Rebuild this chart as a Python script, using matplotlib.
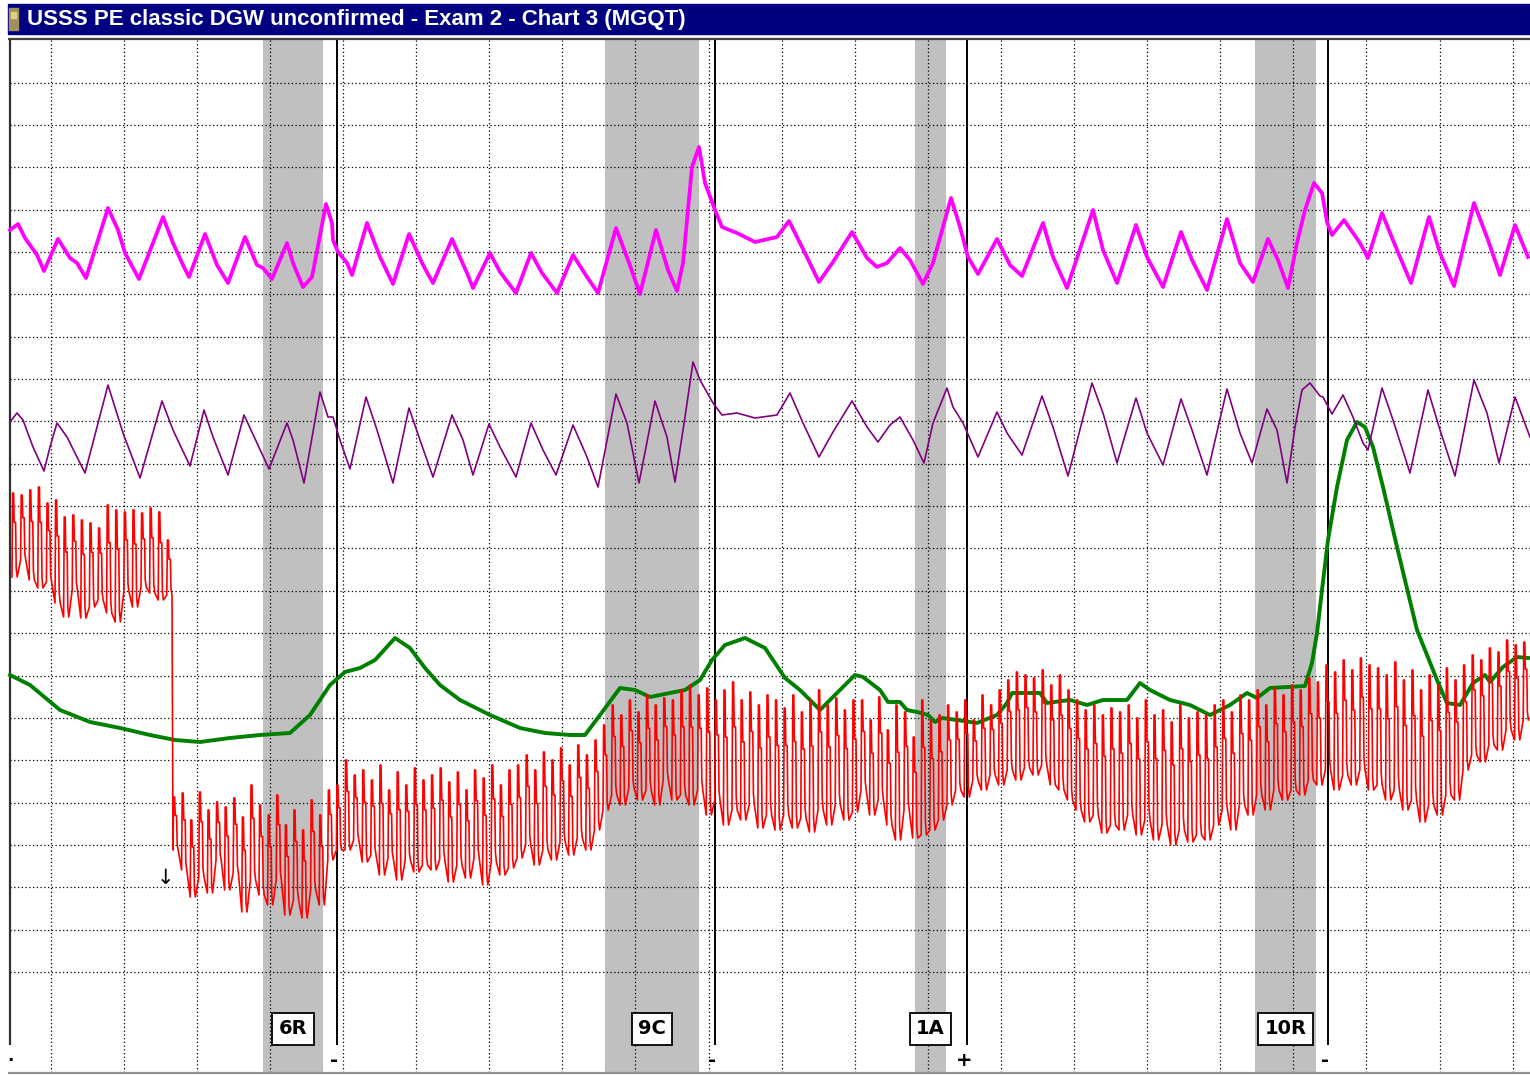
import matplotlib
matplotlib.use('Agg')
import numpy as np
import matplotlib.pyplot as plt
from matplotlib.patches import Rectangle

# time in samples, pen position in chart rows (larger = lower on the chart)
upper_x = [10, 18, 25, 37, 44, 58, 70, 77, 86, 108, 118, 125, 139, 163, 173, 183, 189, 205, 217, 228,
           245, 257, 263, 272, 287, 293, 303, 312, 326, 332, 333, 338, 347, 352, 367, 380, 393, 409, 423, 433,
           452, 467, 473, 490, 500, 516, 531, 542, 557, 573, 587, 598, 616, 628, 640, 656, 668, 677, 683, 692,
           699, 705, 715, 722, 737, 755, 777, 789, 802, 819, 833, 852, 867, 877, 887, 900, 910, 923, 933, 951,
           960, 968, 978, 997, 1010, 1022, 1043, 1053, 1067, 1093, 1103, 1117, 1136, 1147, 1163, 1181, 1192, 1207, 1227, 1240,
           1253, 1268, 1278, 1288, 1297, 1305, 1314, 1322, 1327, 1332, 1344, 1360, 1368, 1382, 1397, 1411, 1429, 1440, 1454, 1474,
           1488, 1500, 1515, 1528]
upper_y = [230, 224, 238, 255, 271, 239, 258, 263, 278, 208, 230, 253, 279, 217, 243, 265, 277, 234, 265, 283,
           237, 265, 268, 279, 243, 263, 287, 277, 204, 223, 240, 252, 263, 275, 223, 257, 284, 234, 265, 283,
           239, 273, 288, 253, 272, 293, 253, 273, 293, 255, 277, 293, 228, 260, 294, 230, 270, 291, 263, 167,
           147, 183, 210, 227, 233, 242, 237, 221, 247, 282, 262, 232, 258, 267, 263, 248, 260, 284, 263, 198,
           227, 257, 274, 239, 265, 276, 223, 257, 288, 210, 250, 283, 225, 257, 287, 232, 260, 290, 219, 263,
           282, 239, 260, 288, 243, 210, 183, 193, 222, 235, 220, 243, 258, 213, 250, 283, 217, 253, 286, 203,
           240, 275, 225, 257]

lower_x = [10, 17, 23, 33, 44, 50, 57, 67, 85, 108, 123, 140, 162, 173, 190, 204, 213, 228, 244, 257,
           269, 287, 293, 304, 320, 328, 333, 340, 350, 366, 377, 393, 409, 420, 433, 452, 463, 473, 489, 500,
           516, 531, 543, 556, 573, 587, 598, 616, 627, 639, 655, 667, 675, 685, 693, 700, 713, 722, 737, 755,
           777, 790, 803, 819, 833, 852, 867, 878, 890, 900, 913, 924, 933, 947, 953, 963, 978, 997, 1007, 1022,
           1042, 1053, 1068, 1092, 1103, 1117, 1136, 1147, 1163, 1181, 1192, 1207, 1227, 1240, 1252, 1267, 1277, 1287, 1295, 1302,
           1310, 1320, 1323, 1332, 1343, 1353, 1363, 1368, 1382, 1393, 1410, 1428, 1440, 1455, 1474, 1487, 1499, 1515, 1530]
lower_y = [422, 413, 420, 447, 471, 447, 423, 437, 473, 385, 433, 478, 401, 430, 466, 410, 437, 475, 415, 443,
           469, 423, 440, 483, 392, 417, 417, 440, 469, 397, 430, 483, 408, 440, 477, 415, 440, 475, 424, 447,
           477, 423, 450, 475, 425, 457, 487, 394, 423, 483, 401, 437, 482, 417, 362, 380, 403, 415, 413, 418,
           415, 393, 423, 457, 432, 401, 427, 442, 425, 417, 440, 463, 423, 388, 407, 423, 457, 412, 433, 455,
           396, 427, 476, 383, 413, 463, 398, 433, 465, 399, 430, 475, 389, 433, 463, 409, 430, 483, 427, 390,
           383, 396, 397, 414, 395, 417, 443, 450, 388, 420, 473, 390, 430, 476, 380, 413, 463, 397, 437]

eda_x = [10, 30, 60, 90, 120, 150, 175, 200, 230, 260, 290, 310, 330, 345, 360, 375, 395, 410, 425, 440,
         460, 490, 520, 545, 570, 585, 600, 620, 635, 650, 670, 685, 700, 712, 725, 745, 765, 785, 800, 820,
         835, 855, 863, 880, 888, 900, 907, 917, 928, 935, 942, 957, 977, 997, 1007, 1012, 1040, 1047, 1070, 1087,
         1103, 1127, 1140, 1150, 1170, 1190, 1210, 1230, 1247, 1257, 1270, 1305, 1312, 1317, 1322, 1328, 1337, 1347, 1357, 1365,
         1373, 1383, 1397, 1417, 1437, 1447, 1460, 1473, 1485, 1490, 1503, 1517, 1528]
eda_y = [675, 685, 710, 722, 728, 735, 740, 742, 738, 735, 733, 715, 685, 672, 668, 660, 638, 648, 668, 685,
         700, 715, 728, 733, 735, 735, 715, 688, 690, 697, 693, 690, 680, 660, 645, 638, 648, 678, 690, 710,
         695, 675, 677, 690, 702, 702, 710, 712, 715, 722, 718, 720, 723, 715, 703, 693, 693, 703, 700, 705,
         700, 700, 683, 690, 700, 705, 715, 705, 693, 698, 688, 686, 663, 633, 590, 540, 487, 440, 422, 427,
         447, 487, 547, 630, 680, 703, 705, 683, 675, 682, 667, 657, 658]

# cardio: systolic (top) and diastolic (bottom) per beat, before and after the cuff drop
cardio_a_start, cardio_b_start, beat_step = 12, 173, 8.6
cardio_a_top = [493, 495, 490, 487, 503, 500, 517, 515, 520, 523, 528, 505, 510, 512, 510, 513, 508, 512, 540]
cardio_a_bot = [577, 560, 580, 588, 582, 603, 617, 590, 618, 607, 600, 613, 622, 592, 607, 587, 593, 600, 595]
cardio_b_top = [797, 793, 820, 792, 810, 802, 807, 798, 817, 785,
                805, 815, 795, 825, 810, 830, 800, 815, 790, 785,
                760, 775, 770, 780, 765, 790, 772, 785, 768, 780,
                775, 768, 782, 772, 790, 770, 778, 765, 785, 770,
                765, 755, 770, 752, 760, 748, 765, 745, 755, 740,
                725, 705, 715, 700, 712, 695, 705, 698, 700, 690,
                685, 695, 688, 700, 690, 682, 700, 692, 705, 695,
                700, 708, 695, 712, 700, 690, 705, 698, 710, 700,
                700, 720, 697, 730, 705, 712, 737, 700, 720, 715,
                705, 712, 700, 720, 695, 705, 690, 680, 672, 675,
                678, 670, 685, 675, 690, 700, 710, 705, 715, 708,
                712, 705, 718, 700, 715, 710, 722, 705, 718, 712,
                715, 705, 700, 712, 695, 700, 690, 705, 688, 695,
                685, 690, 678, 682, 665, 672, 660, 670, 658, 665,
                668, 675, 662, 680, 670, 690, 675, 685, 668, 680,
                665, 655, 660, 648, 652, 640, 645, 642]
cardio_b_bot = [850, 870, 897, 877, 893, 860, 890, 873, 912, 880,
                895, 905, 880, 915, 900, 918, 890, 905, 860, 850,
                850, 840, 862, 855, 875, 858, 880, 860, 872, 865,
                870, 860, 882, 865, 878, 858, 885, 862, 875, 868,
                858, 845, 865, 850, 860, 842, 855, 838, 850, 830,
                810, 795, 805, 788, 800, 790, 805, 780, 800, 795,
                805, 790, 815, 800, 825, 810, 820, 805, 828, 815,
                830, 815, 828, 818, 832, 810, 825, 805, 820, 812,
                790, 815, 800, 825, 840, 810, 838, 835, 830, 820,
                805, 790, 797, 780, 790, 775, 785, 770, 780, 768,
                775, 765, 785, 790, 800, 810, 822, 815, 833, 825,
                830, 815, 835, 820, 840, 825, 845, 830, 842, 835,
                840, 825, 810, 830, 805, 815, 795, 810, 790, 800,
                790, 795, 780, 785, 770, 790, 775, 785, 770, 790,
                785, 800, 790, 810, 800, 822, 805, 815, 795, 800,
                770, 755, 762, 745, 750, 730, 740, 720]

questions = ['6R', '9C', '1A', '10R']
q_onset = [263, 605, 915, 1255]
q_offset = [323, 699, 946, 1316]
q_answer = [337, 715, 967, 1328]
q_sign = ['-', '-', '+', '-']

title = 'USSS PE classic DGW unconfirmed - Exam 2 - Chart 3 (MGQT)'

fig = plt.figure(figsize=(15.3, 10.75), dpi=100)
ax = fig.add_axes([0, 0, 1, 1])
ax.set_xlim(0, 1530)
ax.set_ylim(1075, 0)
ax.axis('off')

# title bar
ax.add_patch(Rectangle((8, 4), 1522, 30, color='#000080', zorder=1))
ax.add_patch(Rectangle((9, 8), 9, 22, color='#a09060', zorder=2))
ax.add_patch(Rectangle((11, 12), 5, 6, color='#e0d080', zorder=3))
ax.text(27, 19, title, color='white', fontsize=16, fontweight='bold',
        family=['Liberation Sans', 'DejaVu Sans'], va='center', ha='left', zorder=3)

# question windows
for on, off in zip(q_onset, q_offset):
    ax.axvspan(on, off, ymin=2 / 1075, ymax=1 - 40 / 1075, color='#c0c0c0', lw=0, zorder=0)

# chart grid
grid_x = 50.7 + 73.1 * np.arange(21)
grid_y = 167.3 + 42.35 * np.arange(-2, 20)
ax.vlines(grid_x, 40, 1073, colors='black', linestyles=(0, (1, 2)), lw=0.9, zorder=1)
ax.hlines(grid_y, 10, 1530, colors='black', linestyles=(0, (1, 2)), lw=0.9, zorder=1)
ax.hlines(39, 8, 1530, colors='#404040', lw=1.6, zorder=2)
ax.hlines(1073, 8, 1530, colors='#909090', lw=1.6, zorder=2)
ax.vlines(10, 40, 1045, colors='#303030', lw=1.6, zorder=2)
ax.text(10, 1056, '.', fontsize=12, fontweight='bold', ha='center', va='center')

# answer marks
for ans, sign in zip(q_answer, q_sign):
    ax.vlines(ans, 40, 1045, colors='black', lw=1.4, zorder=2)
    ax.text(ans - 3, 1060, sign, fontsize=14, fontweight='bold', ha='center', va='center', zorder=5)

# traces
ax.plot(eda_x, eda_y, color='#008000', lw=2.8, zorder=3)
ax.plot(upper_x, upper_y, color='#ff00ff', lw=2.7, zorder=4)
ax.plot(lower_x, lower_y, color='#800080', lw=1.2, zorder=4)

# cardio drawn as a pulse per beat: upstroke, short plateau, downstroke
t_a = cardio_a_start + beat_step * np.arange(len(cardio_a_top))
t_b = cardio_b_start + beat_step * np.arange(len(cardio_b_top))
t = np.concatenate([t_a, t_b])
top = np.concatenate([cardio_a_top, cardio_b_top])
bot = np.concatenate([cardio_a_bot, cardio_b_bot])
notch = top + (bot - top) * 0.35
cx = np.column_stack([t, t + 0.6, t + 1.6, t + 2.2, t + 3.6, t + 4.2, t + 5.2]).ravel()
cy = np.column_stack([bot, top, top, notch, notch, bot + (top - bot) * 0.1, bot]).ravel()
ax.plot(cx, cy, color='#ff0000', lw=1.2, zorder=5)

ax.text(165, 878, '\u2193', fontsize=15, ha='center', va='center', zorder=5)

# question labels
for name, on, off in zip(questions, q_onset, q_offset):
    ax.text((on + off) / 2, 1029, name, fontsize=14, fontweight='bold', ha='center', va='center',
            bbox=dict(boxstyle='square,pad=0.32', fc='white', ec='black', lw=1.3), zorder=6)

fig.savefig('out.png', dpi=100)
